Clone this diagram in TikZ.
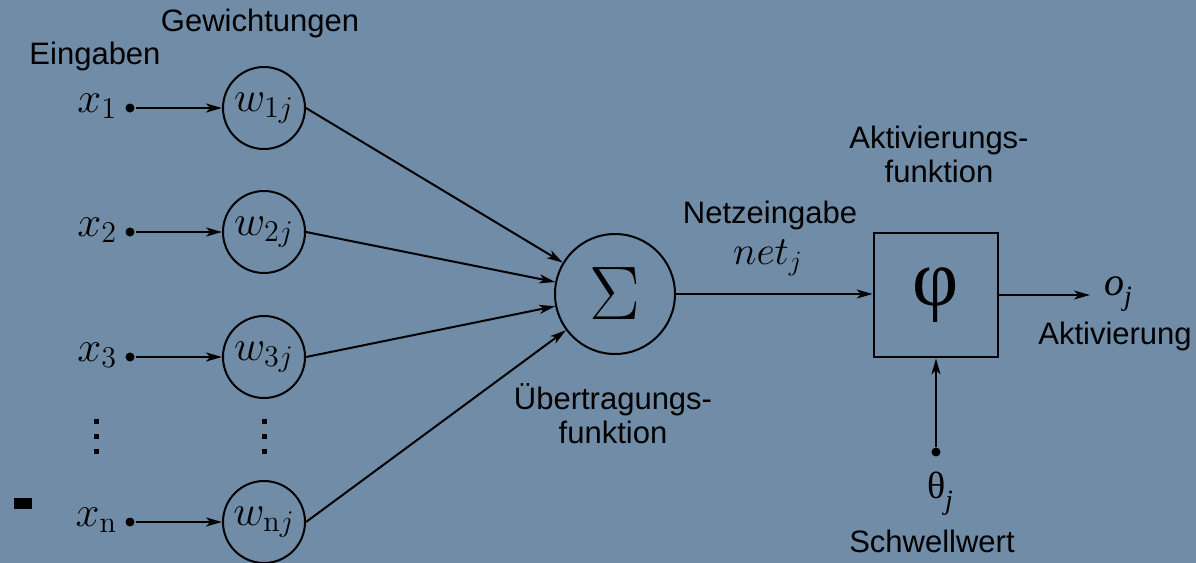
\RequirePackage{fix-cm}
\documentclass[tikz,border=0pt]{standalone}
\usepackage[no-math]{fontspec}
\setmainfont{Liberation Sans}
\newfontfamily\grk{Liberation Serif}
\usetikzlibrary{arrows.meta}
\definecolor{bg}{RGB}{112,140,166}
\begin{document}
\begin{tikzpicture}[x=0.5pt,y=-0.5pt,
  line width=1pt,
  >={Stealth[length=8pt,width=4.5pt,inset=2.2pt]},
  wcirc/.style={circle,draw,minimum size=41pt,inner sep=0pt,font=\fontsize{21.5}{21.5}\selectfont},
  mathlbl/.style={inner sep=0pt,font=\fontsize{21.5}{21.5}\selectfont},
  lbl/.style={font=\fontsize{15.5}{17}\selectfont,align=center,inner sep=0pt},
  dotnode/.style={circle,fill,inner sep=0pt,minimum size=4.5pt}]
\fill[bg] (0,0) rectangle (1196,563);
\useasboundingbox (0,0) rectangle (1196,563);

% labels
\node[lbl,anchor=base] (gew) at (260,31) {Gewichtungen};
\node[lbl,anchor=base] (ein) at (95,64) {Eingaben};

% weight circles
\node[wcirc] (w1) at (264,108) {$w_{1j}$};
\node[wcirc] (w2) at (264,232) {$w_{2j}$};
\node[wcirc] (w3) at (264,357) {$w_{3j}$};
\node[wcirc] (wn) at (264,522) {$w_{\mathrm{n}j}$};

% input dots and labels
\node[dotnode] (d1) at (130,108) {};
\node[dotnode] (d2) at (130,232) {};
\node[dotnode] (d3) at (130,357) {};
\node[dotnode] (dn) at (130,522) {};
\node[mathlbl,anchor=base east] (x1) at (118,112) {$x_1$};
\node[mathlbl,anchor=base east] (x2) at (118,236) {$x_2$};
\node[mathlbl,anchor=base east] (x3) at (118,361) {$x_3$};
\node[mathlbl,anchor=base east] (xn) at (118,526) {$x_\mathrm{n}$};

\draw[->] (d1) -- (w1);
\draw[->] (d2) -- (w2);
\draw[->] (d3) -- (w3);
\draw[->] (dn) -- (wn);

% vertical dots
\foreach \xx in {96,264}{
  \foreach \yy in {421,436,451}{
    \fill (\xx-2.5,\yy-2.5) rectangle (\xx+2.5,\yy+2.5);
  }
}
% stray mark
\fill (14,498) rectangle (32,509);

% sum
\node[circle,draw,minimum size=60pt,inner sep=0pt,font=\fontsize{38}{38}\selectfont] (sum) at (615,294) {$\Sigma$};
\draw[->] (w1.east) -- (sum);
\draw[->] (w2.east) -- (sum);
\draw[->] (w3.east) -- (sum);
\draw[->] (wn.east) -- (sum);
\node[lbl,anchor=base] (uebert) at (613,443) {Übertragungs-\\funktion};

% net input
\node[lbl,anchor=base] (netz) at (770,223) {Netzeingabe};
\node[anchor=base,inner sep=0pt,font=\fontsize{20}{20}\selectfont] (net) at (768,264) {$net_j$};

% activation box
\node[draw,line width=1.4pt,minimum size=62pt,inner sep=0pt,font=\grk\fontsize{40}{40}\selectfont] (box) at (936,295) {φ};
\draw[->] (sum.east) -- (box.west |- sum.east);
\node[lbl,anchor=base] (aktf) at (939,182) {Aktivierungs-\\funktion};

% output
\coordinate (oend) at (1090,295);
\draw[->] (box.east |- oend) -- (oend);
\node[anchor=base west,inner sep=0pt,font=\grk\fontsize{20}{20}\selectfont] (oj) at (1103,295) {\itshape o\raisebox{-0.25em}{\fontsize{14}{14}\selectfont j}};
\node[lbl,anchor=base] (akt) at (1115,344) {Aktivierung};

% threshold
\node[dotnode] (th) at (936,452) {};
\draw[->] (th) -- (box.south);
\node[anchor=base west,inner sep=0pt,font=\grk\fontsize{19}{19}\selectfont] (theta) at (926,498) {θ\raisebox{-0.3em}{\fontsize{14}{14}\selectfont\itshape j}};
\node[lbl,anchor=base] (schw) at (932,552) {Schwellwert};
\end{tikzpicture}
\end{document}
